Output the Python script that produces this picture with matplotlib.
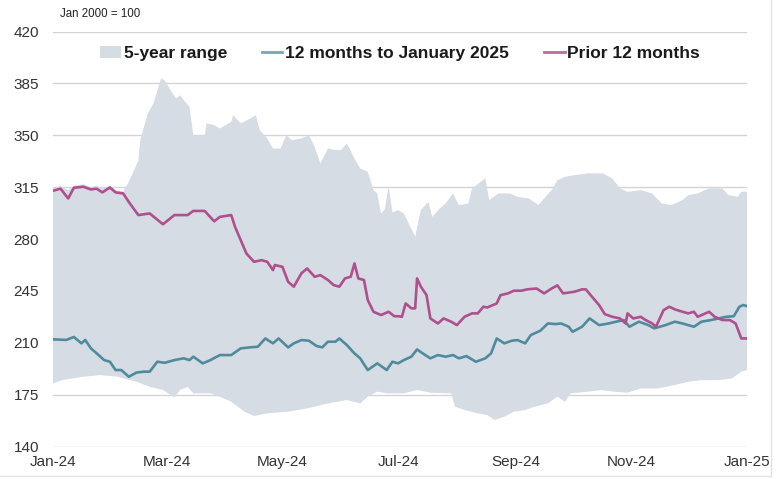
import numpy as np
import matplotlib
matplotlib.use("Agg")
import matplotlib.pyplot as plt
import matplotlib.dates as mdates
from matplotlib.patches import Patch
from matplotlib.lines import Line2D

plt.rcParams['font.family'] = ['Liberation Sans', 'DejaVu Sans']

# ---------------- data (days since 1 Jan 2024, index Jan 2000 = 100) ----------------
prior_days = [0, 4, 8, 11, 16, 20, 23, 26, 30, 33, 37, 40, 45, 51, 58, 64, 71, 74, 80, 85, 88,
              94, 96, 99, 102, 106, 110, 113, 116, 117, 121, 124, 127, 131, 134, 138, 141, 145,
              148, 151, 154, 157, 159, 161, 164, 166, 169, 173, 177, 180,
              182, 184, 186, 189, 191, 192, 194, 197, 199, 203, 206, 210, 213, 217, 221, 224,
              227, 229, 234, 236, 240, 243, 247, 250, 255, 259, 263, 266, 269,
              275, 279, 281, 285, 288, 291, 295, 299, 302, 303, 306, 310, 312, 316, 318, 322,
              325, 328, 332, 335, 338, 340, 346, 349, 353, 357, 360, 363, 366]
prior_vals = [312.6, 314, 307.4, 314.6, 315.3, 313.5, 314, 311.5, 314.8, 311.5, 310.8, 305, 296.2,
              297.3, 290, 296.2, 296.2, 299, 299, 292, 295,
              296.2, 288.3, 279.3, 270.3, 264.7, 265.8, 264.7, 259.1, 262.5, 261.3, 251.2, 247.9,
              256.9, 260.2, 254.6, 255.7, 252.4, 249, 247.9, 253.5, 254.6, 263.6, 253.5, 252.4,
              238.9, 231, 228.8, 231, 228,
              228, 227.6, 236.6, 233.3, 233.3, 253.5, 247.9, 242.2, 226.5, 223.1, 226.5, 224.3,
              222, 227.6, 229.9, 229.9, 234.4, 233.9, 236.6, 242.2, 243.4, 245.2, 245.2, 246.1,
              246.7, 243.4, 246.7, 248.8, 243.4,
              244.5, 246.1, 246.1, 240, 235.5, 229.4, 227.6, 226.5, 223.1, 229.9, 226.5, 227.6,
              225.8, 223.1, 220.9, 232.1, 234.4, 232.6, 231, 229.9, 231, 227.6, 231, 227.6,
              225.4, 225.4, 223.1, 213, 213]

current_days = [0, 7, 11, 15, 17, 20, 23, 27, 30, 33, 36, 40, 44, 48, 51, 55, 59, 64, 69, 72, 74,
                79, 83, 88,
                94, 99, 104, 108, 112, 116, 119, 124, 127, 131, 135, 139, 142, 145, 149, 151,
                155, 159, 162, 166, 171, 176, 179,
                182, 185, 189, 192, 195, 199, 203, 207, 211, 214, 218, 223, 228, 231, 234, 238,
                242, 245, 249, 252, 257, 261, 265, 268, 272,
                274, 279, 283, 288, 293, 297, 301, 304, 309, 314, 317, 323, 328, 332, 338, 342,
                347, 351, 355, 359, 362, 364, 366]
current_vals = [212.4, 212, 214, 209.7, 212, 206.3, 203, 198.4, 197.3, 191.7, 191.7, 187.2, 190,
                190.6, 190.6, 197.3, 196.6, 198.4, 199.6, 198.4, 200.7, 196.2, 198.4, 201.8,
                201.8, 206.3, 207, 207.4, 213, 209.7, 213, 207, 209.7, 211.9, 211.5, 207.9, 207,
                210.8, 210.8, 213, 208.5, 202.9, 199.6, 191.7, 196.2, 191.7, 197.3,
                196.2, 198.4, 200.7, 205.6, 202.9, 199.6, 201.8, 200.7, 201.8, 199.6, 201.1,
                197.3, 199.6, 202.9, 213, 209.7, 211.5, 211.9, 209.7, 215.3, 218.2, 223.1,
                222.7, 223.1, 220.9,
                217.5, 220.9, 226.5, 222, 223.1, 224.3, 225.4, 220.9, 224.3, 222, 219.8, 222,
                224.3, 223.1, 220.9, 224.3, 225.4, 226.5, 227.6, 228, 234.4, 235.5, 234.8]

range_hi_days = [0, 4, 8, 11, 16, 20, 23, 26, 30, 33, 37, 40, 45, 46, 50, 53, 57, 59, 62, 65, 67,
                 69, 72, 74, 80, 81, 85, 88,
                 94, 95, 99, 104, 107, 109, 113, 116, 120, 123, 126, 131, 135, 138, 141, 145,
                 149, 152, 155, 159, 162, 166, 169, 171, 173, 175, 177, 179,
                 182, 185, 191, 194, 198, 200, 204, 207, 211, 214, 219, 221, 228, 230, 235, 241,
                 245, 251, 256, 259, 263, 266, 270,
                 275, 282, 290, 295, 299, 303, 310, 316, 321, 326, 332, 335, 340, 346, 353, 356,
                 361, 363, 366]
range_hi_vals = [314, 316, 313, 316, 317, 315, 316, 314, 316, 313, 312, 318.6, 333, 346.7, 364.7,
                 371.5, 388.3, 387, 380.4, 374.8, 377, 373.7, 369.2, 350, 350, 358, 356.9, 354.6,
                 359, 363.6, 358, 361.3, 363.6, 353.5, 347.9, 341.1, 341.1, 350, 346.7, 347.9,
                 350, 342.2, 331, 341.1, 340, 340, 344.5, 334.4, 327.6, 325.4, 313, 310.8, 297.3,
                 300, 316, 298,
                 299.6, 297.3, 281.6, 299.6, 305.2, 295, 300.7, 304, 310.8, 302.9, 304, 314.2,
                 320.9, 306.3, 310.8, 310.8, 308.5, 307.4, 302.9, 307.4, 313, 319.8, 322,
                 323.1, 324.3, 324.3, 320.9, 314.2, 311.9, 313, 310.8, 304, 302.9, 306.3, 309.7,
                 310.8, 314.2, 314.2, 309.7, 308.5, 311.9, 311.9]

range_lo_days = [0, 5, 16, 25, 34, 44, 51, 58, 64, 67, 71, 74, 83, 88,
                 94, 101, 106, 113, 124, 134, 145, 155, 162, 166, 171, 176,
                 185, 192, 199, 210, 212, 217, 224, 229, 233, 238, 243, 249, 254, 261, 266, 270,
                 273, 282, 289, 296, 303, 310, 319, 328, 335, 342, 351, 358, 363, 366]
range_lo_vals = [182.7, 185, 187.2, 188.3, 187.2, 183.8, 180.4, 178.2, 173.3, 178.2, 180.4, 176,
                 176, 173.7,
                 170.3, 163.6, 160.7, 162.5, 163.6, 165.8, 169.2, 171.5, 169.2, 173.7, 177.1, 176,
                 176, 178.2, 176.4, 176, 167, 164.7, 162.5, 161.3, 158, 160.2, 163.6, 164.7, 167,
                 169.2, 173.7, 170.3,
                 176, 177.1, 178.2, 177.1, 176.4, 179.3, 179.3, 181.6, 183.8, 184.9, 184.9, 186,
                 190.6, 191.7]

y_ticks = [140, 175, 210, 245, 280, 315, 350, 385, 420]
x_tick_labels = ['Jan-24', 'Mar-24', 'May-24', 'Jul-24', 'Sep-24', 'Nov-24', 'Jan-25']
x_tick_dates = ['2024-01-01', '2024-03-01', '2024-05-01', '2024-07-01', '2024-09-01',
                '2024-11-01', '2025-01-01']
series_labels = ['5-year range', '12 months to January 2025', 'Prior 12 months']
unit_note = 'Jan 2000 = 100'

# ---------------- drawing ----------------
base = np.datetime64('2024-01-01')


def to_dates(days):
    return base + np.array(days).astype('timedelta64[D]')


FILL = '#d6dce4'
TEAL = '#4f8b9c'
PINK = '#b04f8e'
GRID = '#d4d4d4'
TXT = '#333333'

fig = plt.figure(figsize=(7.76, 4.79), dpi=100)
ax = fig.add_axes([53 / 776, 1 - 446.7 / 479, (747 - 53) / 776, (446.7 - 31.5) / 479])

hi_x = mdates.date2num(to_dates(range_hi_days))
lo_x = mdates.date2num(to_dates(range_lo_days))
ax.fill(np.concatenate([hi_x, lo_x[::-1]]),
        np.concatenate([range_hi_vals, range_lo_vals[::-1]]),
        color=FILL, lw=0, zorder=2)

ax.plot(to_dates(current_days), current_vals, color=TEAL, lw=1.9, zorder=4)
ax.plot(to_dates(prior_days), prior_vals, color=PINK, lw=1.9, zorder=4)

ax.set_ylim(140, 420)
ax.set_yticks(y_ticks)
ax.set_xlim(mdates.date2num(np.datetime64('2024-01-01')), mdates.date2num(np.datetime64('2025-01-01')))
ax.set_xticks(mdates.date2num(np.array(x_tick_dates, dtype='datetime64[D]')))
ax.set_xticklabels(x_tick_labels)

ax.yaxis.grid(True, color=GRID, lw=1.0, zorder=1)
ax.set_axisbelow(True)
for s in ax.spines.values():
    s.set_visible(False)
ax.tick_params(axis='y', length=0, pad=10, labelsize=11, labelcolor=TXT)
ax.tick_params(axis='x', length=0, pad=6, labelsize=11, labelcolor=TXT)

fig.text(60 / 776, 1 - 14 / 479, unit_note, fontsize=8.3, color='#222222', va='center', ha='left')

handles = [Patch(facecolor=FILL, edgecolor='none'),
           Line2D([], [], color='#7aa5b5', lw=2),
           Line2D([], [], color='#b86ea0', lw=2)]
leg = ax.legend(handles, series_labels, loc='upper center', bbox_to_anchor=(0.5, 1.0),
                ncol=3, frameon=False, handlelength=1.2, handletextpad=0.15,
                columnspacing=2.0, prop={'weight': 'bold', 'size': 12.5},
                borderaxespad=0.45)
for t in leg.get_texts():
    t.set_color('#1a1a1a')

# thin frame lines at right and bottom of the picture
fig.add_artist(Line2D([771 / 776, 771 / 776], [1 - 476 / 479, 1], color='#e3e3e3', lw=1,
                      transform=fig.transFigure))
fig.add_artist(Line2D([0, 771 / 776], [1 - 476 / 479, 1 - 476 / 479], color='#e3e3e3', lw=1,
                      transform=fig.transFigure))

fig.savefig('out.png', dpi=100)
